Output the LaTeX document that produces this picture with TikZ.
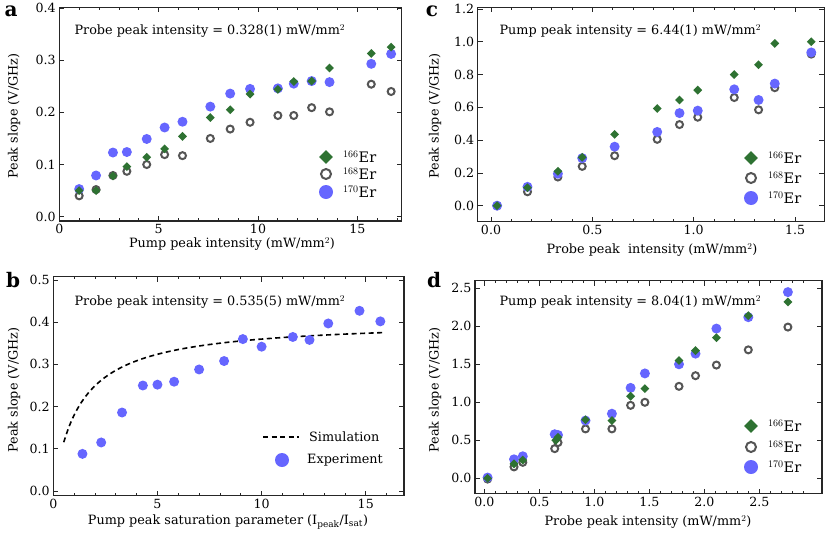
\documentclass[tikz,border=0pt]{standalone}
\usepackage{fontspec}
\setmainfont{DejaVu Serif}
\usetikzlibrary{shapes.geometric}
\definecolor{ergreen}{HTML}{2E7232}
\definecolor{erblue}{HTML}{6666FF}
\definecolor{ergray}{HTML}{555555}
\tikzset{
	frame/.style={draw=black!85, line width=1.3pt},
	tick/.style={draw=black!85, line width=0.8pt},
	dia/.style={diamond, fill=ergreen, inner sep=0pt, minimum size=9pt},
	ring/.style={circle, draw=ergray, line width=2pt, inner sep=0pt, minimum size=7pt},
	dot/.style={circle, fill=erblue, inner sep=0pt, minimum size=10pt},
	ticklabel/.style={font=\fontsize{12.6}{13}\selectfont},
	axislabel/.style={font=\fontsize{12.8}{13}\selectfont},
	legendtext/.style={font=\fontsize{14.5}{15}\selectfont, anchor=west, inner sep=0pt},
	panellabel/.style={font=\fontsize{20}{20}\selectfont\bfseries},
}
\begin{document}
\begin{tikzpicture}[x=1pt, y=1pt]
\useasboundingbox (0,0) rectangle (830,-533);

% panel a
\begin{scope}[shift={(59.3,-216.7)}, x=19.87pt, y=521.7pt]
\draw[frame] (0,-0.008) rectangle (17.23,0.401);
\foreach \t in {0,1,...,17} {
	\draw[tick] (\t,-0.008) -- ++(0,2.5pt);
	\draw[tick] (\t,0.401) -- ++(0,-2.5pt);
}
\foreach \t in {0,5,10,15} {
	\draw[tick] (\t,-0.008) -- ++(0,5pt);
	\draw[tick] (\t,0.401) -- ++(0,-5pt);
	\node[ticklabel, below] (ax\t) at (\t,-0.008) {\t};
}
\foreach \v in {0.0,0.1,0.2,0.3,0.4} {
	\draw[tick] (0,\v) -- ++(5pt,0);
	\draw[tick] (17.23,\v) -- ++(-5pt,0);
	\node[ticklabel, left] (ay\v) at (0,\v) {\v};
}
\foreach \x/\y in {1.0/0.04,1.85/0.052,2.7/0.079,3.4/0.087,4.4/0.1,5.3/0.119,6.2/0.117,7.6/0.15,8.6/0.168,9.6/0.181,11.0/0.194,11.8/0.194,12.7/0.209,13.6/0.201,15.7/0.254,16.7/0.24}
	\node[ring] (ar) at (\x,\y) {};
\foreach \x/\y in {1.0/0.053,1.85/0.079,2.7/0.123,3.4/0.124,4.4/0.149,5.3/0.171,6.2/0.182,7.6/0.211,8.6/0.236,9.6/0.245,11.0/0.246,11.8/0.255,12.7/0.26,13.6/0.258,15.7/0.293,16.7/0.312}
	\node[dot] (ab) at (\x,\y) {};
\foreach \x/\y in {1.0/0.05,1.85/0.05,2.7/0.078,3.4/0.096,4.4/0.114,5.3/0.13,6.2/0.154,7.6/0.19,8.6/0.205,9.6/0.235,11.0/0.244,11.8/0.259,12.7/0.26,13.6/0.285,15.7/0.313,16.7/0.325}
	\node[dia] (ag) at (\x,\y) {};
\end{scope}
\node[axislabel, anchor=west] (atitle) at (71,-31) {Probe peak intensity = 0.328(1) mW/mm$^2$};
\node[axislabel] (axlab) at (232,-244) {Pump peak intensity (mW/mm$^2$)};
\node[axislabel, rotate=90] (aylab) at (14,-116) {Peak slope (V/GHz)};
\node[panellabel] (pa) at (11,-11) {a};
\node[dia, minimum size=14pt] (alg1) at (326,-157) {};
\node[ring, minimum size=10pt] (alg2) at (326,-174) {};
\node[dot, minimum size=14pt] (alg3) at (326,-192) {};
\node[legendtext] (alt1) at (343,-157) {$^{166}$Er};
\node[legendtext] (alt2) at (343,-174) {$^{168}$Er};
\node[legendtext] (alt3) at (343,-192) {$^{170}$Er};

% panel c
\begin{scope}[shift={(491,-205.7)}, x=202.7pt, y=163.9pt]
\draw[frame] (-0.066,-0.098) rectangle (1.645,1.21);
\foreach \t in {0,0.1,...,1.6} {
	\draw[tick] (\t,-0.098) -- ++(0,2.5pt);
	\draw[tick] (\t,1.21) -- ++(0,-2.5pt);
}
\foreach \t in {0.0,0.5,1.0,1.5} {
	\draw[tick] (\t,-0.098) -- ++(0,5pt);
	\draw[tick] (\t,1.21) -- ++(0,-5pt);
	\node[ticklabel, below] (cx\t) at (\t,-0.098) {\t};
}
\foreach \v in {0.0,0.2,0.4,0.6,0.8,1.0,1.2} {
	\draw[tick] (-0.066,\v) -- ++(5pt,0);
	\draw[tick] (1.645,\v) -- ++(-5pt,0);
	\node[ticklabel, left] (cy\v) at (-0.066,\v) {\v};
}
\foreach \x/\y in {0.03/0,0.18/0.085,0.33/0.175,0.45/0.24,0.61/0.305,0.82/0.405,0.93/0.495,1.02/0.54,1.2/0.66,1.32/0.585,1.4/0.72,1.58/0.925}
	\node[ring] (cr) at (\x,\y) {};
\foreach \x/\y in {0.03/0,0.18/0.115,0.33/0.195,0.45/0.29,0.61/0.36,0.82/0.45,0.93/0.565,1.02/0.58,1.2/0.71,1.32/0.645,1.4/0.745,1.58/0.935}
	\node[dot] (cb) at (\x,\y) {};
\foreach \x/\y in {0.03/0,0.18/0.11,0.33/0.21,0.45/0.295,0.61/0.435,0.82/0.593,0.93/0.645,1.02/0.705,1.2/0.8,1.32/0.86,1.4/0.99,1.58/1.0}
	\node[dia] (cg) at (\x,\y) {};
\end{scope}
\node[axislabel, anchor=west] (ctitle) at (496,-31) {Pump peak intensity = 6.44(1) mW/mm$^2$};
\node[axislabel] (cxlab) at (652,-250) {Probe peak\ \ intensity (mW/mm$^2$)};
\node[axislabel, rotate=90] (cylab) at (435,-116) {Peak slope (V/GHz)};
\node[panellabel] (pc) at (432,-11) {c};
\node[dia, minimum size=14pt] (clg1) at (751,-158) {};
\node[ring, minimum size=10pt] (clg2) at (751,-178) {};
\node[dot, minimum size=14pt] (clg3) at (751,-198) {};
\node[legendtext] (clt1) at (768,-158) {$^{166}$Er};
\node[legendtext] (clt2) at (768,-178) {$^{168}$Er};
\node[legendtext] (clt3) at (768,-198) {$^{170}$Er};

% panel b
\begin{scope}[shift={(53.3,-491)}, x=20.83pt, y=422pt]
\draw[frame] (0,-0.011) rectangle (16.83,0.508);
\foreach \t in {0,1,...,16} {
	\draw[tick] (\t,-0.011) -- ++(0,2.5pt);
	\draw[tick] (\t,0.508) -- ++(0,-2.5pt);
}
\foreach \t in {0,5,10,15} {
	\draw[tick] (\t,-0.011) -- ++(0,5pt);
	\draw[tick] (\t,0.508) -- ++(0,-5pt);
	\node[ticklabel, below] (bx\t) at (\t,-0.011) {\t};
}
\foreach \v in {0.0,0.1,0.2,0.3,0.4,0.5} {
	\draw[tick] (0,\v) -- ++(5pt,0);
	\draw[tick] (16.83,\v) -- ++(-5pt,0);
	\node[ticklabel, left] (by\v) at (0,\v) {\v};
}
\draw[line width=1.6pt, dash pattern=on 5pt off 3.5pt] plot[domain=0.5:15.9, samples=60, smooth] (\x,{0.405*\x/(\x+1.25)});
\foreach \x/\y in {1.4/0.088,2.3/0.115,3.3/0.186,4.3/0.25,5.0/0.252,5.8/0.259,7.0/0.288,8.2/0.308,9.1/0.36,10.0/0.342,11.5/0.365,12.3/0.358,13.2/0.397,14.7/0.427,15.7/0.402}
	\node[dot] (bb) at (\x,\y) {};
\end{scope}
\node[axislabel, anchor=west] (btitle) at (71,-302) {Probe peak intensity = 0.535(5) mW/mm$^2$};
\node[axislabel] (bxlab) at (228,-522) {Pump peak saturation parameter (I$_{\mathrm{peak}}$/I$_{\mathrm{sat}}$)};
\node[axislabel, rotate=90] (bylab) at (14,-390) {Peak slope (V/GHz)};
\node[panellabel] (pb) at (13,-280) {b};
\coordinate (blgA) at (263,-437);
\coordinate (blgB) at (299,-437);
\draw[line width=1.6pt, dash pattern=on 5pt off 3.5pt] (blgA) -- (blgB);
\node[legendtext, font=\fontsize{12.8}{13}\selectfont] (blt1) at (309,-437) {Simulation};
\node[dot, minimum size=14pt] (blg2) at (282,-460) {};
\node[legendtext, font=\fontsize{12.8}{13}\selectfont] (blt2) at (307,-460) {Experiment};

% panel d
\begin{scope}[shift={(484.3,-478.3)}, x=110pt, y=76pt]
\draw[frame] (-0.085,-0.2) rectangle (3.07,2.6);
\foreach \t in {0,0.1,...,3.0} {
	\draw[tick] (\t,-0.2) -- ++(0,2.5pt);
	\draw[tick] (\t,2.6) -- ++(0,-2.5pt);
}
\foreach \t in {0.0,0.5,1.0,1.5,2.0,2.5} {
	\draw[tick] (\t,-0.2) -- ++(0,5pt);
	\draw[tick] (\t,2.6) -- ++(0,-5pt);
	\node[ticklabel, below] (dx\t) at (\t,-0.2) {\t};
	\draw[tick] (-0.085,\t) -- ++(5pt,0);
	\draw[tick] (3.07,\t) -- ++(-5pt,0);
	\node[ticklabel, left] (dy\t) at (-0.085,\t) {\t};
}
\foreach \x/\y in {0.03/-0.01,0.27/0.15,0.35/0.21,0.64/0.39,0.67/0.47,0.92/0.65,1.16/0.65,1.33/0.96,1.46/1.0,1.77/1.21,1.92/1.35,2.11/1.49,2.4/1.69,2.76/1.99}
	\node[ring] (dr) at (\x,\y) {};
\foreach \x/\y in {0.03/0.01,0.27/0.25,0.35/0.29,0.64/0.58,0.67/0.57,0.92/0.76,1.16/0.85,1.33/1.19,1.46/1.38,1.77/1.5,1.92/1.64,2.11/1.97,2.4/2.12,2.76/2.45}
	\node[dot] (db) at (\x,\y) {};
\foreach \x/\y in {0.03/0,0.27/0.19,0.35/0.24,0.65/0.5,0.67/0.54,0.92/0.77,1.16/0.76,1.33/1.08,1.46/1.18,1.77/1.55,1.92/1.68,2.11/1.85,2.4/2.14,2.76/2.32}
	\node[dia] (dg) at (\x,\y) {};
\end{scope}
\node[axislabel, anchor=west] (dtitle) at (496,-302) {Pump peak intensity = 8.04(1) mW/mm$^2$};
\node[axislabel] (dxlab) at (648,-522) {Probe peak intensity (mW/mm$^2$)};
\node[axislabel, rotate=90] (dylab) at (435,-390) {Peak slope (V/GHz)};
\node[panellabel] (pd) at (434,-280) {d};
\node[dia, minimum size=14pt] (dlg1) at (751,-426) {};
\node[ring, minimum size=10pt] (dlg2) at (751,-447) {};
\node[dot, minimum size=14pt] (dlg3) at (751,-467) {};
\node[legendtext] (dlt1) at (768,-426) {$^{166}$Er};
\node[legendtext] (dlt2) at (768,-447) {$^{168}$Er};
\node[legendtext] (dlt3) at (768,-467) {$^{170}$Er};
\end{tikzpicture}
\end{document}
